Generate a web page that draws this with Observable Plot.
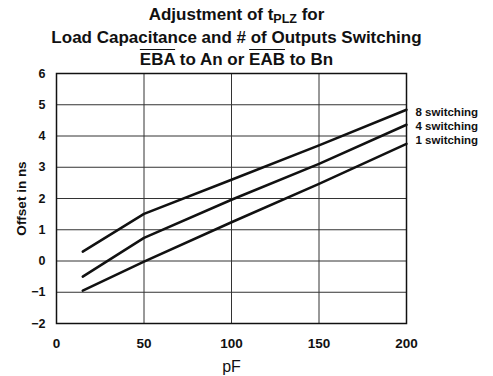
<!DOCTYPE html>
<html>
<head>
<meta charset="utf-8">
<script src="https://cdn.jsdelivr.net/npm/d3@7"></script>
<script src="https://cdn.jsdelivr.net/npm/@observablehq/plot@0.6"></script>
<style>
  html, body { margin: 0; padding: 0; background: white; }
  #wrap { position: relative; width: 493px; height: 376px; }
  #title { position: absolute; top: 4px; left: 0; width: 473px; text-align: center;
    font-family: "Liberation Sans", Arial, Helvetica, sans-serif; font-weight: bold;
    font-size: 17px; line-height: 22.5px; color: #111; }
  #title sub { font-size: 12.5px; vertical-align: -3px; line-height: 0; }
  .ov { text-decoration: overline; }
</style>
</head>
<body>
<div id="wrap">
  <div id="chart"></div>
  <div id="title">Adjustment of t<sub>PLZ</sub> for<br>Load Capacitance and # of Outputs Switching<br><span class="ov">EBA</span> to An or <span class="ov">EAB</span> to Bn</div>
</div>
<script>
const capacitance = [15, 50, 100, 150, 200];
const switching8 = [0.30, 1.51, 2.60, 3.70, 4.84];
const switching4 = [-0.50, 0.74, 1.96, 3.11, 4.36];
const switching1 = [-0.95, -0.02, 1.24, 2.47, 3.75];
const seriesNames = ["8 switching", "4 switching", "1 switching"];
const labelY = [4.75, 4.30, 3.85];
const xTicks = [0, 50, 100, 150, 200];
const yTicks = [-2, -1, 0, 1, 2, 3, 4, 5, 6];

const seriesValues = [switching8, switching4, switching1];
const data = [];
seriesNames.forEach((name, i) => {
  capacitance.forEach((c, j) => data.push({series: name, x: c, y: seriesValues[i][j]}));
});
const labels = seriesNames.map((name, i) => ({name, x: 200, y: labelY[i]}));

const chart = Plot.plot({
  width: 493,
  height: 376,
  marginLeft: 56,
  marginRight: 87,
  marginTop: 73,
  marginBottom: 53,
  style: {fontFamily: "'Liberation Sans', Arial, Helvetica, sans-serif", background: "white", color: "#111"},
  x: {domain: [0, 200]},
  y: {domain: [-2, 6]},
  marks: [
    Plot.gridX(xTicks, {stroke: "#333", strokeOpacity: 1, strokeWidth: 1}),
    Plot.gridY(yTicks, {stroke: "#333", strokeOpacity: 1, strokeWidth: 1}),
    Plot.frame({stroke: "#111", strokeWidth: 1.5}),
    Plot.axisX(xTicks, {tickSize: 0, tickPadding: 15, fontSize: 13.5, fontWeight: "bold", label: null}),
    Plot.axisY(yTicks, {tickSize: 0, tickPadding: 11, fontSize: 12.5, fontWeight: "bold", label: null}),
    Plot.line(data, {x: "x", y: "y", z: "series", stroke: "#111", strokeWidth: 2.5}),
    Plot.text(labels, {x: "x", y: "y", text: "name", dx: 9, textAnchor: "start", fontSize: 11.5, fontWeight: "bold", fill: "#111"}),
    Plot.text(["pF"], {frameAnchor: "bottom", dy: 43, lineAnchor: "middle", fontSize: 16, fill: "#111"}),
    Plot.text(["Offset in ns"], {frameAnchor: "left", dx: -35, rotate: -90, textAnchor: "middle", lineAnchor: "middle", fontSize: 13.5, fontWeight: "bold", fill: "#111"})
  ]
});
document.getElementById("chart").appendChild(chart);
</script>
</body>
</html>
